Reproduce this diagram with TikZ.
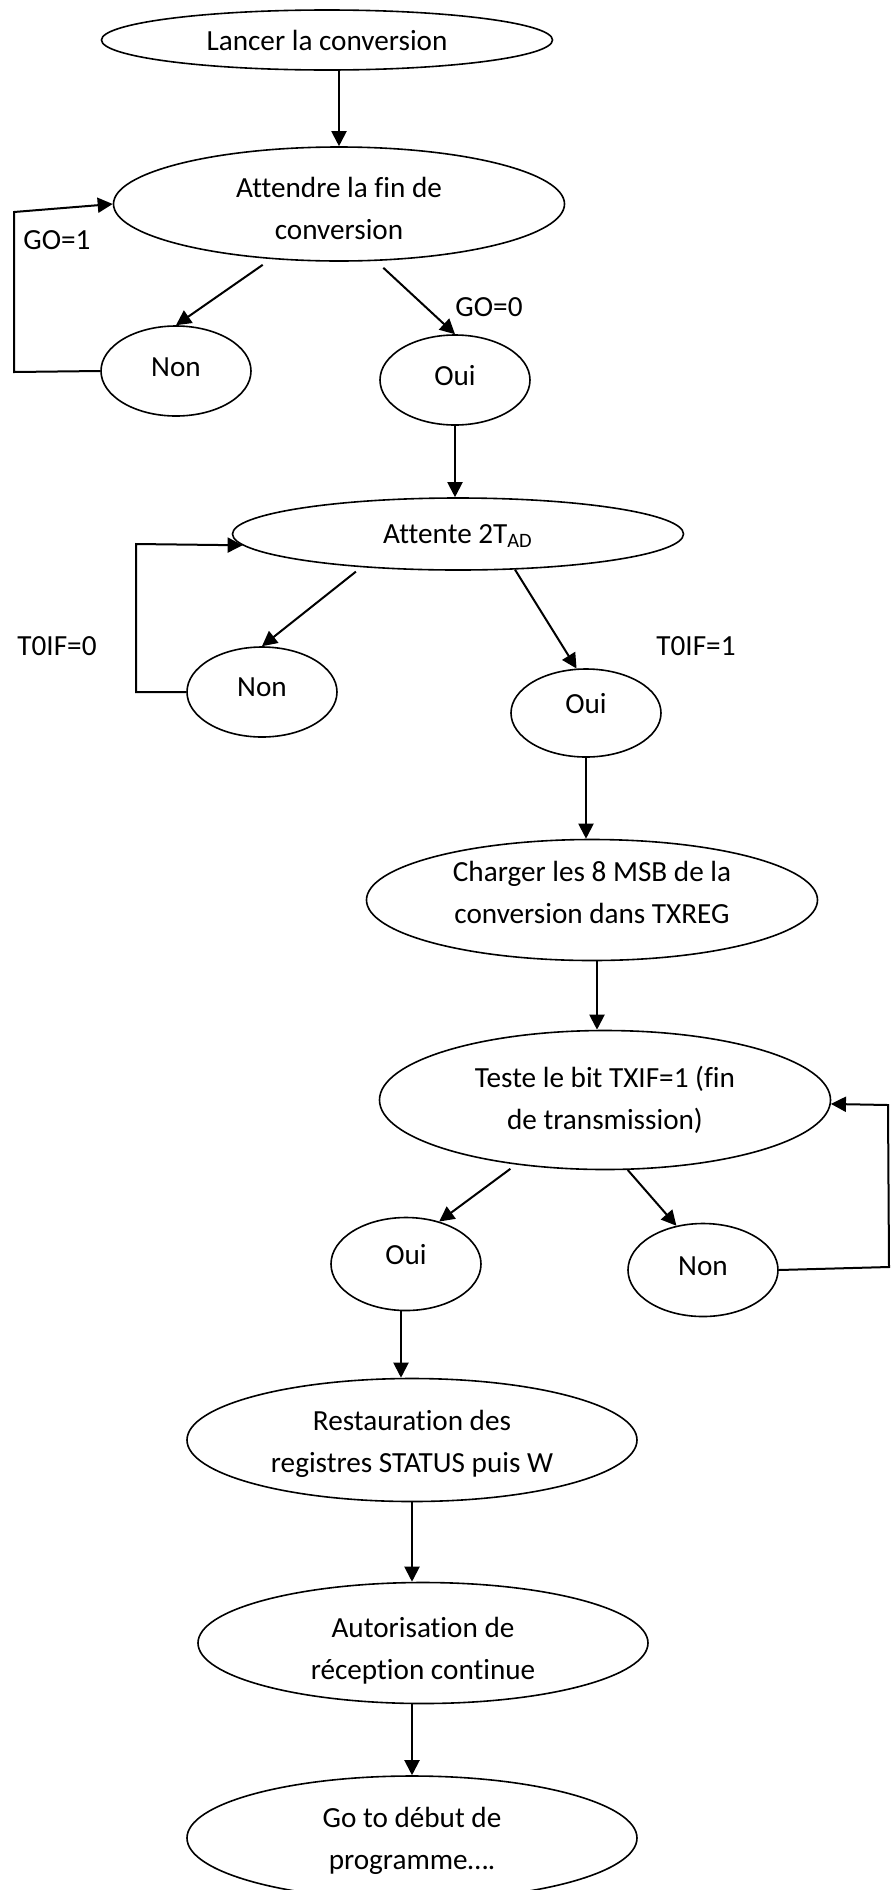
\documentclass[tikz,border=0pt]{standalone}
\usepackage{fontspec}
\setmainfont{Carlito}[Ligatures=CommonOff]
\usetikzlibrary{shapes.geometric,arrows.meta,calc}
\begin{document}
\begin{tikzpicture}[x=0.5pt,y=-0.5pt,
  every node/.style={font=\fontsize{14.6}{21}\selectfont},
  every label/.style={inner sep=0pt,align=center},
  bub/.style={ellipse,draw,line width=0.8pt,inner sep=0pt},
  arr/.style={line width=1pt,-{Triangle[length=7.5pt,width=7.5pt]}},
  lbl/.style={inner sep=0pt}]
\useasboundingbox (0,0) rectangle (891,1890);
% bubbles
\node[bub,minimum width=225.5pt,minimum height=30pt,label={center:Lancer la conversion}] (E1) at (327,40) {};
\node[bub,minimum width=225.5pt,minimum height=57pt,label={[yshift=-2pt]center:{Attendre la fin de\\conversion}}] (E2) at (339,204) {};
\node[bub,minimum width=75pt,minimum height=45pt,label={[yshift=1.8pt]center:Non}] (N1) at (176,371) {};
\node[bub,minimum width=75pt,minimum height=45pt,label={[yshift=2.4pt]center:Oui}] (O1) at (455,380) {};
\node[bub,minimum width=225.5pt,minimum height=36pt,label={[yshift=-1pt]center:{Attente 2T\textsubscript{AD}}}] (E3) at (458,534) {};
\node[bub,minimum width=75pt,minimum height=45pt,label={[yshift=2.4pt]center:Non}] (N2) at (262,692) {};
\node[bub,minimum width=75pt,minimum height=44pt,label={[yshift=4.8pt]center:Oui}] (O2) at (586,713) {};
\node[bub,minimum width=225.5pt,minimum height=60.5pt,label={[yshift=4pt]center:{Charger les 8 MSB de la\\conversion dans TXREG}}] (E4) at (592,900) {};
\node[bub,minimum width=225.5pt,minimum height=69.5pt,label={center:{Teste le bit TXIF=1 (fin\\de transmission)}}] (E5) at (605,1100) {};
\node[bub,minimum width=75pt,minimum height=46.5pt,label={[yshift=4.8pt]center:Oui}] (O3) at (406,1264) {};
\node[bub,minimum width=75pt,minimum height=46.5pt,label={[yshift=1.8pt]center:Non}] (N3) at (703,1270) {};
\node[bub,minimum width=225pt,minimum height=61.5pt,label={[yshift=-1.8pt]center:{Restauration des\\registres STATUS puis W}}] (E6) at (412,1440) {};
\node[bub,minimum width=225pt,minimum height=60.5pt,label={[yshift=-3.9pt]center:{Autorisation de\\réception continue}}] (E7) at (423,1643) {};
\node[bub,minimum width=225pt,minimum height=62pt,label={[yshift=-1.5pt]center:{Go to début de\\programme….}}] (E8) at (412,1838) {};
% labels
\node[lbl] (g1) at (57,240) {GO=1};
\node[lbl] (g0) at (489,307) {GO=0};
\node[lbl] (t0) at (57,646) {T0IF=0};
\node[lbl] (t1) at (696,646) {T0IF=1};
% loop corners
\coordinate (L1a) at (14,372);
\coordinate (L1b) at (14,212);
\coordinate (L2a) at (136,692);
\coordinate (L2b) at (136,544);
\coordinate (L3a) at (889,1267);
\coordinate (L3b) at (888,1105);
% connectors
\draw[arr] (E2.north |- E1.south) -- (E2.north);
\draw[arr,shorten <=5pt] (E2.219) -- (N1.north);
\draw[arr,shorten <=5pt] (E2.-57.5) -- (O1.north);
\draw[arr] (N1.west) -- (L1a) -- (L1b) -- (E2.west);
\draw[arr] (O1.south) -- (O1.south |- E3.north);
\draw[arr,shorten <=3.5pt] (E3.-161) -- (N2.north);
\draw[arr] (E3.-32.4) -- (O2.102);
\draw[arr] (N2.west) -- (L2a) -- (L2b) -- (E3.183);
\draw[arr] (O2.south) -- (O2.south |- E4.north);
\draw[arr] ([xshift=2.5pt]E4.south) -- ([xshift=2.5pt]E4.south |- E5.north);
\draw[arr,shorten <=3.5pt] (E5.-144) -- (O3.52);
\draw[arr] (E5.-72.6) -- (N3.121);
\draw[arr] (N3.east) -- (L3a) -- (L3b) -- (E5.-1.3);
\draw[arr] ([xshift=-2.5pt]O3.south) -- ([xshift=-2.5pt]O3.south |- E6.north);
\draw[arr] (E6.south) -- (E6.south |- E7.north);
\draw[arr] (E6.south |- E7.south) -- (E6.south |- E8.north);
\end{tikzpicture}
\end{document}
